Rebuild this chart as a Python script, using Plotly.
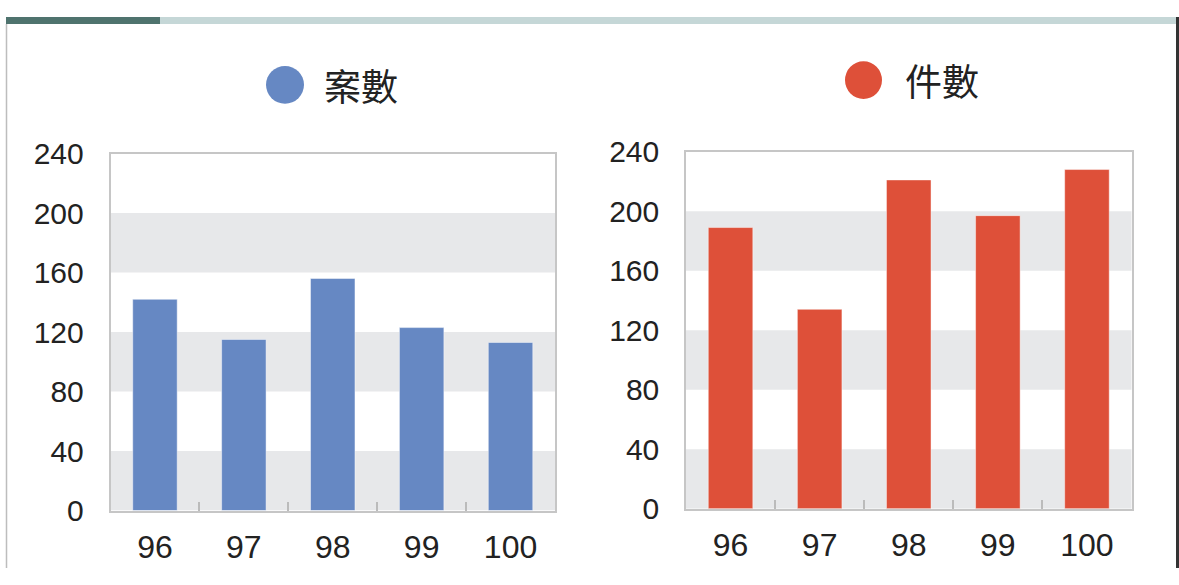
import plotly.graph_objects as go
from plotly.subplots import make_subplots

years = ["96", "97", "98", "99", "100"]
cases = [142, 115, 156, 123, 113]
items = [189, 134, 221, 197, 228]
names = ["案數", "件數"]
colors = ["#6688C3", "#DE5039"]
y_ticks = [0, 40, 80, 120, 160, 200, 240]
bands = [(0, 40), (80, 120), (160, 200)]

W, H = 1179, 585


def px_x(v):
    return v / W


def px_y(v):
    return 1 - v / H


def main():
    fig = make_subplots(rows=1, cols=2)

    fig.add_trace(go.Bar(x=years, y=cases, name=names[0], marker_color=colors[0],
                         marker_line=dict(color="rgba(255,255,255,0.45)", width=1),
                         showlegend=False), row=1, col=1)
    fig.add_trace(go.Bar(x=years, y=items, name=names[1], marker_color=colors[1],
                         marker_line=dict(color="rgba(255,255,255,0.45)", width=1),
                         showlegend=False), row=1, col=2)

    # alternating gray bands behind the bars
    for xr, yr in [("x domain", "y"), ("x2 domain", "y2")]:
        for lo, hi in bands:
            fig.add_shape(type="rect", xref=xr, yref=yr, x0=0, x1=1, y0=lo, y1=hi,
                          fillcolor="#E7E8EA", line_width=0, layer="below")

    axis_line = dict(showline=True, mirror=True, linecolor="#C6C6C6", linewidth=1.5,
                     showgrid=False, zeroline=False)
    for i, (x0, x1, y0, y1) in enumerate([(110.5, 555, 145, 524), (686, 1131.5, 143, 522)]):
        n = "" if i == 0 else "2"
        fig.update_layout({
            "xaxis" + n: dict(axis_line, type="category", domain=[px_x(x0), px_x(x1)],
                              ticks="inside", tickson="boundaries", ticklen=9,
                              tickcolor="#BBBBBB", tickwidth=1.5,
                              ticklabelstandoff=7,
                              tickfont=dict(family="Liberation Sans", size=32, color="#222222")),
            "yaxis" + n: dict(axis_line, range=[0, 240], tickvals=y_ticks,
                              domain=[px_y(y1), px_y(y0)], ticks="",
                              ticklabelstandoff=19,
                              tickfont=dict(family="Liberation Sans", size=30, color="#222222")),
        })

    # header legends: circle + label above each panel
    legend_pos = [(266, 304, 52, 92, 322, 72), (845, 882, 47, 87, 903, 67)]
    for (cx0, cx1, cy0, cy1, tx, ty), name, col in zip(legend_pos, names, colors):
        fig.add_shape(type="circle", xref="paper", yref="paper",
                      x0=px_x(cx0), x1=px_x(cx1), y0=px_y(cy1), y1=px_y(cy0),
                      fillcolor=col, line_width=0)
        fig.add_annotation(text=name, xref="paper", yref="paper", x=px_x(tx), y=px_y(ty),
                           xanchor="left", yanchor="middle", showarrow=False,
                           font=dict(family="Noto Sans CJK TC", size=37, color="#222222"))

    # top header strip and frame lines
    fig.add_shape(type="rect", xref="paper", yref="paper", x0=px_x(6), x1=px_x(160),
                  y0=px_y(7.5), y1=1, fillcolor="#4F736E", line_width=0)
    fig.add_shape(type="rect", xref="paper", yref="paper", x0=px_x(160), x1=px_x(1176),
                  y0=px_y(7.5), y1=1, fillcolor="#C5D7D7", line_width=0)
    fig.add_shape(type="line", xref="paper", yref="paper", x0=px_x(6.5), x1=px_x(6.5),
                  y0=0, y1=px_y(7.5), line=dict(color="#BDBDBD", width=1.5))
    fig.add_shape(type="line", xref="paper", yref="paper", x0=px_x(1177.5), x1=px_x(1177.5),
                  y0=0, y1=1, line=dict(color="#333333", width=3))

    fig.update_layout(
        width=W, height=H,
        margin=dict(l=0, r=0, t=0, b=0),
        paper_bgcolor="white", plot_bgcolor="white",
        bargap=0.5,
    )
    fig.write_html("out.html", config={"displayModeBar": False},
                   post_script="document.body.style.margin='0';document.body.style.overflow='hidden';")


if __name__ == "__main__":
    main()
